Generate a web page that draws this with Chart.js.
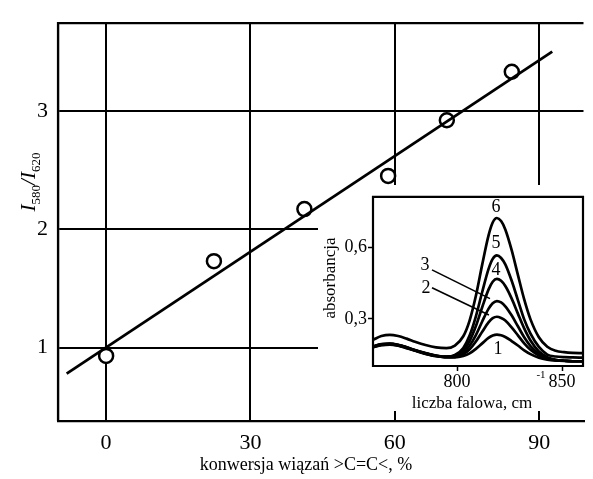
<!DOCTYPE html>
<html>
<head>
<meta charset="utf-8">
<script src="https://cdn.jsdelivr.net/npm/chart.js@4/dist/chart.umd.min.js"></script>
<style>
html, body { margin:0; padding:0; background:#fff; overflow:hidden; }
#wrap { position:relative; width:593px; height:479px; }
#main { position:absolute; left:0; top:0; }
#insetBox { position:absolute; left:318px; top:185px; width:268px; height:226px; }
</style>
</head>
<body>
<div id="wrap">
  <canvas id="main" width="593" height="479"></canvas>
  <div id="insetBox"><canvas id="inset" width="268" height="226"></canvas></div>
</div>
<script>
// main plot: I580/I620 vs conversion
const conversion = [0, 22.4, 41.2, 58.6, 70.8, 84.3];
const ratio = [0.93, 1.73, 2.17, 2.45, 2.92, 3.33];
const fitX = [-8.2, 92.7];
const fitY = [0.78, 3.50];
const xTicks = [0, 30, 60, 90];
const yTicks = [1, 2, 3];

// inset: absorbance spectra 1..6
const wavenumber = [760, 764, 768, 772, 776, 780, 785, 790, 795, 799, 803, 806, 809, 812, 815, 817, 819, 821, 823, 826, 829, 832, 835, 839, 843, 847, 851, 855, 860];
const curve1 = [0.180, 0.190, 0.192, 0.187, 0.177, 0.166, 0.153, 0.143, 0.139, 0.138, 0.144, 0.155, 0.174, 0.197, 0.220, 0.230, 0.234, 0.231, 0.224, 0.207, 0.188, 0.168, 0.152, 0.137, 0.129, 0.125, 0.123, 0.122, 0.122];
const curve2 = [0.181, 0.191, 0.193, 0.188, 0.178, 0.167, 0.154, 0.144, 0.139, 0.140, 0.151, 0.172, 0.205, 0.246, 0.285, 0.303, 0.309, 0.304, 0.293, 0.264, 0.231, 0.197, 0.170, 0.146, 0.132, 0.126, 0.124, 0.122, 0.122];
const curve3 = [0.183, 0.193, 0.195, 0.190, 0.180, 0.168, 0.155, 0.145, 0.140, 0.142, 0.158, 0.187, 0.232, 0.289, 0.342, 0.366, 0.375, 0.369, 0.353, 0.315, 0.269, 0.223, 0.186, 0.153, 0.135, 0.127, 0.124, 0.122, 0.122];
const curve4 = [0.183, 0.193, 0.195, 0.190, 0.180, 0.168, 0.155, 0.145, 0.140, 0.145, 0.168, 0.207, 0.270, 0.349, 0.423, 0.456, 0.468, 0.460, 0.438, 0.386, 0.322, 0.260, 0.209, 0.163, 0.139, 0.128, 0.124, 0.122, 0.122];
const curve5 = [0.184, 0.194, 0.196, 0.191, 0.181, 0.169, 0.156, 0.146, 0.141, 0.148, 0.178, 0.230, 0.311, 0.413, 0.509, 0.552, 0.567, 0.556, 0.529, 0.461, 0.379, 0.298, 0.238, 0.182, 0.150, 0.142, 0.139, 0.138, 0.137];
const curve6 = [0.212, 0.228, 0.233, 0.228, 0.217, 0.204, 0.190, 0.180, 0.177, 0.188, 0.227, 0.293, 0.397, 0.528, 0.650, 0.705, 0.724, 0.711, 0.676, 0.590, 0.485, 0.382, 0.298, 0.223, 0.183, 0.166, 0.160, 0.157, 0.156];
const insetXTicks = [800, 850];
const insetYTicks = [0.3, 0.6];

// curve numbers and the two leader lines (inset data coords)
const curveNames = ['1', '2', '3', '4', '5', '6'];
const nameW = [819.5, 785.2, 784.8, 818.6, 818.6, 818.6];
const nameA = [0.173, 0.430, 0.527, 0.505, 0.616, 0.770];
const leaderW = [[788.1, 815.2], [788.1, 815.7]];
const leaderA = [[0.431, 0.316], [0.506, 0.385]];

const serif = "'Liberation Serif', 'Times New Roman', serif";

function fixedTicks(list){
    return function(scale){ scale.ticks = list.map(v => ({value: v})); };
}

/* FRAME */
const framePlugin = {
    id: 'frame',
    beforeDraw(chart, args, opts){
        if(!opts.blank) return;
        // white patch under the inset so the main grid stops at it
        const ctx = chart.ctx, a = chart.chartArea;
        ctx.save();
        ctx.fillStyle = '#fff';
        ctx.fillRect(0, 30, a.right + 2, chart.height - 30);
        ctx.fillRect(a.left - 2, 0, a.right - a.left + 4, 30);
        ctx.restore();
    },
    beforeDatasetsDraw(chart, args, opts){
        const ctx = chart.ctx, a = chart.chartArea;
        ctx.save();
        ctx.strokeStyle = '#000';
        ctx.lineWidth = opts.width;
        ctx.beginPath();
        ctx.moveTo(a.left, a.bottom);
        ctx.lineTo(a.left, a.top);
        ctx.lineTo(a.right, a.top);
        if(opts.full){
            ctx.lineTo(a.right, a.bottom);
            ctx.closePath();
        }
        ctx.stroke();
        ctx.restore();
    }
};

/* MAIN AXIS TITLES */
const mainTitles = {
    id: 'mainTitles',
    afterDraw(chart){
        const ctx = chart.ctx;
        ctx.save();
        ctx.fillStyle = '#000';
        ctx.font = "18px " + serif;
        ctx.textAlign = 'center';
        ctx.textBaseline = 'middle';
        ctx.fillText('konwersja wiązań >C=C<, %', 306, 465);

        // I580/I620, rotated
        const parts = [
            {t: 'I', f: "italic 21px " + serif, dy: 0},
            {t: '580', f: "13px " + serif, dy: 5},
            {t: '/', f: "italic 21px " + serif, dy: 0},
            {t: 'I', f: "italic 21px " + serif, dy: 0},
            {t: '620', f: "13px " + serif, dy: 5}
        ];
        let w = 0;
        parts.forEach(p => { ctx.font = p.f; p.w = ctx.measureText(p.t).width; w += p.w; });
        ctx.translate(28, 182);
        ctx.rotate(-Math.PI / 2);
        ctx.textAlign = 'left';
        ctx.textBaseline = 'alphabetic';
        let x = -w / 2;
        parts.forEach(p => { ctx.font = p.f; ctx.fillText(p.t, x, 7 + p.dy); x += p.w; });
        ctx.restore();
    }
};

/* INSET LABELS */
const insetLabels = {
    id: 'insetLabels',
    afterDatasetsDraw(chart){
        const ctx = chart.ctx, xs = chart.scales.x, ys = chart.scales.y;
        ctx.save();
        ctx.fillStyle = '#000';
        ctx.strokeStyle = '#000';
        ctx.lineWidth = 1.6;
        leaderW.forEach((lw, i) => {
            ctx.beginPath();
            ctx.moveTo(xs.getPixelForValue(lw[0]), ys.getPixelForValue(leaderA[i][0]));
            ctx.lineTo(xs.getPixelForValue(lw[1]), ys.getPixelForValue(leaderA[i][1]));
            ctx.stroke();
        });
        ctx.font = "18px " + serif;
        ctx.textAlign = 'center';
        ctx.textBaseline = 'middle';
        curveNames.forEach((n, i) => {
            ctx.fillText(n, xs.getPixelForValue(nameW[i]), ys.getPixelForValue(nameA[i]));
        });
        ctx.restore();
    },
    afterDraw(chart){
        const ctx = chart.ctx;
        ctx.save();
        ctx.fillStyle = '#000';
        ctx.font = "17px " + serif;
        ctx.textAlign = 'center';
        ctx.textBaseline = 'middle';
        ctx.fillText('liczba falowa, cm', 154, 219);
        ctx.font = "11px " + serif;
        ctx.fillText('-1', 223, 190);
        ctx.translate(13, 93);
        ctx.rotate(-Math.PI / 2);
        ctx.font = "17px " + serif;
        ctx.fillText('absorbancja', 0, 0);
        ctx.restore();
    }
};

/* MAIN CHART */
new Chart(document.getElementById('main'), {
    type: 'scatter',
    data: {
        datasets: [{
            data: fitX.map((x, i) => ({x: x, y: fitY[i]})),
            showLine: true,
            borderColor: '#000',
            borderWidth: 2.8,
            pointRadius: 0,
            order: 0
        }, {
            data: conversion.map((x, i) => ({x: x, y: ratio[i]})),
            pointRadius: 7,
            pointBorderWidth: 2.5,
            pointBorderColor: '#000',
            pointBackgroundColor: '#fff',
            order: 1
        }]
    },
    options: {
        responsive: false,
        animation: false,
        devicePixelRatio: 1,
        layout: { padding: { top: 13, right: 0, left: 0, bottom: 0 } },
        plugins: { legend: { display: false }, tooltip: { enabled: false }, frame: { width: 2.2 } },
        scales: {
            x: {
                type: 'linear', min: -10, max: 99.2,
                afterBuildTicks: fixedTicks(xTicks),
                afterFit: s => { s.height = 58; },
                grid: { color: '#000', lineWidth: 2, drawTicks: false },
                border: { display: true, color: '#000', width: 2.2 },
                ticks: { color: '#000', font: { family: serif, size: 22 }, padding: 9, maxRotation: 0 }
            },
            y: {
                type: 'linear', min: 0.38, max: 3.74,
                afterBuildTicks: fixedTicks(yTicks),
                afterFit: s => { s.width = 58; },
                grid: { color: '#000', lineWidth: 2, drawTicks: false },
                border: { display: true, color: '#000', width: 2.2 },
                ticks: { color: '#000', font: { family: serif, size: 22 }, padding: 10 }
            }
        }
    },
    plugins: [framePlugin, mainTitles]
});

/* INSET CHART */
const curves = [curve1, curve2, curve3, curve4, curve5, curve6];
new Chart(document.getElementById('inset'), {
    type: 'scatter',
    data: {
        datasets: curves.map(c => ({
            data: wavenumber.map((w, i) => ({x: w, y: c[i]})),
            showLine: true,
            borderColor: '#000',
            borderWidth: 2.7,
            pointRadius: 0,
            cubicInterpolationMode: 'monotone'
        }))
    },
    options: {
        responsive: false,
        animation: false,
        devicePixelRatio: 1,
        layout: { padding: { top: 1, right: 3, left: 0, bottom: 0 } },
        plugins: { legend: { display: false }, tooltip: { enabled: false }, frame: { width: 2.2, full: true, blank: true } },
        scales: {
            x: {
                type: 'linear', min: 760, max: 860,
                afterBuildTicks: fixedTicks(insetXTicks),
                afterFit: s => { s.height = 45; },
                grid: { drawOnChartArea: false, tickLength: 5, tickColor: '#000', tickWidth: 1.5 },
                border: { display: false },
                ticks: { color: '#000', font: { family: serif, size: 18 }, padding: 0, maxRotation: 0 }
            },
            y: {
                type: 'linear', min: 0.102, max: 0.813,
                afterBuildTicks: fixedTicks(insetYTicks),
                afterFit: s => { s.width = 55; },
                grid: { drawOnChartArea: false, tickLength: 5, tickColor: '#000', tickWidth: 1.5 },
                border: { display: false },
                ticks: { color: '#000', font: { family: serif, size: 18 }, padding: 1,
                    callback: v => String(v).replace('.', ',') }
            }
        }
    },
    plugins: [framePlugin, insetLabels]
});
</script>
</body>
</html>
